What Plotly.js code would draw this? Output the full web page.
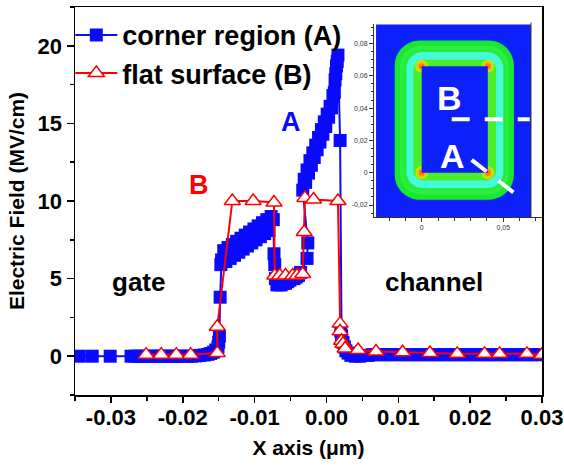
<!DOCTYPE html>
<html>
<head>
<meta charset="utf-8">
<script src="https://cdn.plot.ly/plotly-3.0.1.min.js"></script>
<style>html,body{margin:0;padding:0;background:#fff;}#chart{width:564px;height:465px;}</style>
</head>
<body>
<div id="chart"></div>
<script>
// ---- data ----
const cornerX = [-0.0344,-0.0326,-0.0301,-0.0272,
  -0.0266,-0.0260,-0.0254,-0.0248,-0.0242,-0.0236,-0.0230,-0.0224,-0.0218,-0.0212,-0.0206,-0.0200,-0.0194,-0.0188,-0.0182,-0.0176,-0.0170,-0.0165,-0.0161,-0.0157,-0.0154,-0.0151,
  -0.0150,-0.0149,-0.0148,-0.0147,
  -0.0146,-0.0143,-0.0140,-0.0137,-0.0134,-0.0131,-0.0128,-0.0125,-0.0122,-0.0119,-0.0116,-0.0113,-0.0110,-0.0107,-0.0104,-0.0101,-0.0098,-0.0095,-0.0092,-0.0089,-0.0086,-0.0083,-0.0080,-0.0077,
  -0.0074,-0.0073,-0.0072,-0.0071,-0.0069,-0.0066,-0.0063,-0.0060,-0.0057,-0.0054,-0.0051,-0.0048,-0.0045,-0.0042,-0.0039,-0.0036,
  -0.0027,-0.0026,
  -0.0033,-0.0031,-0.0029,-0.0027,-0.0025,-0.0023,-0.0021,-0.0019,-0.0017,-0.0015,-0.0013,-0.0011,-0.0009,-0.0007,-0.0005,-0.0003,-0.0001,0.0001,0.0003,0.0005,0.0007,0.0009,0.0011,0.0012,0.0013,0.0014,0.0015,0.0016,
  0.0019,0.0020,0.0021,0.0023,0.0025,0.0027,0.0030,
  0.0034,0.0040,0.0046,0.0052,0.0058,0.0064,0.0070,0.0076,0.0082,0.0088,0.0094,0.0100,0.0106,0.0112,0.0118,0.0124,0.0130,0.0136,0.0142,0.0148,0.0154,0.0160,0.0166,0.0172,0.0178,0.0184,0.0190,0.0196,0.0202,0.0208,0.0214,0.0220,0.0226,0.0232,0.0238,0.0244,0.0250,0.0256,0.0262,0.0268,0.0274,0.0280,0.0286,0.0292,0.0298];
const cornerY = [0.0,0.0,0.0,0.0,
  0.0,0.0,0.0,0.0,0.0,0.0,0.0,0.0,0.0,0.0,0.0,0.0,0.0,0.0,0.02,0.05,0.08,0.12,0.18,0.26,0.4,0.6,
  0.9,1.3,3.8,5.9,
  6.2,6.8,6.1,7.0,6.3,7.2,6.5,7.4,6.7,7.6,6.9,7.8,7.1,8.0,7.3,8.2,7.5,8.4,7.7,8.6,7.9,8.8,8.1,9.0,
  8.8,6.6,5.9,5.0,4.6,4.6,4.6,4.7,4.7,4.8,4.9,5.0,5.0,5.1,5.2,5.4,
  6.3,7.3,
  10.7,11.4,11.2,12.0,11.8,12.6,12.3,13.1,12.8,13.6,13.3,14.1,13.8,14.6,14.3,15.1,14.8,15.6,15.4,16.1,16.0,16.8,17.0,17.8,18.2,18.7,19.0,19.4,
  13.9,1.6,1.3,0.9,0.6,0.35,0.2,
  0.05,0.0,0.0,0.05,0.05,0.1,0.1,0.1,0.1,0.1,0.1,0.1,0.1,0.1,0.1,0.1,0.1,0.1,0.1,0.1,0.1,0.1,0.1,0.1,0.1,0.1,0.1,0.1,0.1,0.1,0.1,0.1,0.1,0.1,0.1,0.1,0.1,0.1,0.1,0.1,0.1,0.1,0.1,0.1,0.1];

const flatX = [-0.0251,-0.0230,-0.0209,-0.0189,-0.0152,-0.0152,-0.0131,-0.0102,-0.0073,
  -0.0072,-0.0065,-0.0057,-0.0047,-0.0041,-0.0033,-0.0031,-0.0030,-0.0018,0.0016,
  0.0019,0.0019,0.0021,0.0023,0.0026,0.0044,0.0069,0.0106,0.0144,0.0182,0.0220,0.0241,0.0279,0.0300];
const flatY = [0.1,0.1,0.1,0.1,0.2,1.9,10.0,10.0,9.9,
  5.2,5.2,5.2,5.2,5.2,5.3,8.0,10.2,10.1,10.0,
  2.1,1.6,1.0,0.8,0.5,0.4,0.3,0.25,0.2,0.15,0.15,0.15,0.15,0.1];

const seriesNames = ['corner region (A)', 'flat surface (B)'];
const xTickVals = [-0.03,-0.02,-0.01,0,0.01,0.02,0.03];
const xTickText = ['-0.03','-0.02','-0.01','0.00','0.01','0.02','0.03'];
const yTickVals = [0,5,10,15,20];
const insetXTickVals = [0,0.05];
const insetXTickText = ['0','0,05'];
const insetYTickVals = [-0.02,0,0.02,0.04,0.06,0.08];
const insetYTickText = ['-0,02','0','0,02','0,04','0,06','0,08'];

// ---- styling ----
const FONT = 'Arial, "Liberation Sans", Helvetica, sans-serif';
const BLUE = '#0a0aff';
const RED = '#ff0000';
const MAPBLUE = 'rgb(12,32,250)';

const traces = [
  {x: cornerX, y: cornerY, name: seriesNames[0], type: 'scatter', mode: 'lines+markers',
   line: {color: BLUE, width: 2}, marker: {symbol: 'square', size: 13, color: BLUE}},
  {x: flatX, y: flatY, name: seriesNames[1], type: 'scatter', mode: 'lines+markers',
   line: {color: RED, width: 2}, marker: {symbol: 'triangle-up', size: 14, color: '#ffffff', line: {color: RED, width: 1.5}}}
];

function rr(x0, y0, x1, y1, r) {
  const k = 0.4477 * r;
  return 'M' + (x0 + r) + ',' + y0 + ' L' + (x1 - r) + ',' + y0 +
    ' C' + (x1 - k) + ',' + y0 + ' ' + x1 + ',' + (y0 + k) + ' ' + x1 + ',' + (y0 + r) +
    ' L' + x1 + ',' + (y1 - r) +
    ' C' + x1 + ',' + (y1 - k) + ' ' + (x1 - k) + ',' + y1 + ' ' + (x1 - r) + ',' + y1 +
    ' L' + (x0 + r) + ',' + y1 +
    ' C' + (x0 + k) + ',' + y1 + ' ' + x0 + ',' + (y1 - k) + ' ' + x0 + ',' + (y1 - r) +
    ' L' + x0 + ',' + (y0 + r) +
    ' C' + x0 + ',' + (y0 + k) + ' ' + (x0 + k) + ',' + y0 + ' ' + (x0 + r) + ',' + y0 + ' Z';
}
function pathShape(p, fill) {
  return {type: 'path', xref: 'x2', yref: 'y2', path: p, fillcolor: fill, line: {width: 0}, layer: 'above'};
}
function circ(cx, cy, r, fill) {
  return {type: 'circle', xref: 'x2', yref: 'y2', x0: cx - r, x1: cx + r, y0: cy - r, y1: cy + r,
          fillcolor: fill, line: {width: 0}, layer: 'above'};
}

const shapes = [
  {type: 'rect', xref: 'x2 domain', yref: 'y2 domain', x0: 0.012, x1: 0.9345, y0: 0, y1: 1,
   fillcolor: MAPBLUE, line: {width: 0}, layer: 'above'},
  {type: 'line', xref: 'x2 domain', yref: 'y2 domain', x0: 0.9345, x1: 0.9345, y0: 0, y1: 1.01,
   line: {color: '#333', width: 1}, layer: 'above'},
  pathShape(rr(-0.0165, -0.0167, 0.0565, 0.0819, 0.0155), 'rgb(25,232,48)'),
  pathShape(rr(-0.0132, -0.0134, 0.0532, 0.0786, 0.0128), 'rgb(48,237,64)'),
  pathShape(rr(-0.0112, -0.0114, 0.0512, 0.0766, 0.0112), 'rgb(35,236,58)'),
  pathShape(rr(-0.0093, -0.0095, 0.0500, 0.0748, 0.0100), 'rgb(70,250,215)'),
  pathShape(rr(-0.0050, -0.0048, 0.0455, 0.0700, 0.0060), 'rgb(75,236,40)')
];
[[0, 0], [0.0405, 0], [0, 0.066], [0.0405, 0.066]].forEach(function (c) {
  shapes.push(circ(c[0], c[1], 0.0040, 'rgb(180,235,10)'));
  shapes.push(circ(c[0], c[1], 0.0029, 'rgb(250,190,0)'));
  shapes.push(circ(c[0], c[1], 0.0018, 'rgb(255,120,0)'));
});
shapes.push({type: 'rect', xref: 'x2', yref: 'y2', x0: 0, x1: 0.0405, y0: 0, y1: 0.066,
  fillcolor: MAPBLUE, line: {width: 0}, layer: 'above'});
shapes.push({type: 'line', xref: 'x2', yref: 'y2', x0: 0.0184, x1: 0.0662, y0: 0.0332, y1: 0.0332,
  line: {color: '#ffffff', width: 4, dash: '18px,15px'}, layer: 'above'});
shapes.push({type: 'line', xref: 'x2', yref: 'y2', x0: 0.0306, y0: 0.0080, x1: 0.0562, y1: -0.0122,
  line: {color: '#ffffff', width: 4, dash: '19px,15px'}, layer: 'above'});

const annotations = [
  {x: -0.0177, y: 11.0, xref: 'x', yref: 'y', text: 'B', showarrow: false,
   font: {family: FONT, size: 27, color: RED, weight: 'bold'}},
  {x: -0.0050, y: 15.1, xref: 'x', yref: 'y', text: 'A', showarrow: false,
   font: {family: FONT, size: 27, color: BLUE, weight: 'bold'}},
  {x: -0.0262, y: 4.8, xref: 'x', yref: 'y', text: 'gate', showarrow: false,
   font: {family: FONT, size: 26, color: '#000', weight: 'bold'}},
  {x: 0.0150, y: 4.8, xref: 'x', yref: 'y', text: 'channel', showarrow: false,
   font: {family: FONT, size: 26, color: '#000', weight: 'bold'}},
  {x: 0.0173, y: 0.0461, xref: 'x2', yref: 'y2', text: 'B', showarrow: false,
   font: {family: FONT, size: 34, color: '#ffffff', weight: 'bold'}},
  {x: 0.0189, y: 0.0105, xref: 'x2', yref: 'y2', text: 'A', showarrow: false,
   font: {family: FONT, size: 34, color: '#ffffff', weight: 'bold'}}
];

const layout = {
  width: 564, height: 465,
  margin: {l: 75, r: 22, t: 7, b: 70, pad: 0},
  paper_bgcolor: '#ffffff', plot_bgcolor: '#ffffff',
  font: {family: FONT, color: '#000'},
  showlegend: true,
  legend: {x: -0.01, y: 0.99, xanchor: 'left', yanchor: 'top', bgcolor: 'rgba(0,0,0,0)',
           borderwidth: 0, itemwidth: 42, tracegroupgap: 4,
           font: {family: FONT, size: 27, color: '#000', weight: 'bold'}},
  xaxis: {range: [-0.035, 0.03], tickmode: 'array', tickvals: xTickVals, ticktext: xTickText,
          showline: true, mirror: true, linecolor: '#000', linewidth: 1.5,
          ticks: 'outside', ticklen: 6, tickwidth: 1.5, tickcolor: '#000', ticklabelstandoff: -4,
          minor: {dtick: 0.005, tick0: 0, ticks: 'outside', ticklen: 4, tickwidth: 1.5, tickcolor: '#000'},
          showgrid: false, zeroline: false,
          tickfont: {family: FONT, size: 22, color: '#000', weight: 'bold'},
          title: {text: 'X axis (\u03bcm)', standoff: 11, font: {family: FONT, size: 21, color: '#000', weight: 'bold'}}},
  yaxis: {range: [-2.5, 22.5], tickmode: 'array', tickvals: yTickVals,
          showline: true, mirror: true, linecolor: '#000', linewidth: 1.5,
          ticks: 'outside', ticklen: 7, tickwidth: 1.5, tickcolor: '#000',
          minor: {dtick: 2.5, tick0: 0, ticks: 'outside', ticklen: 4, tickwidth: 1.5, tickcolor: '#000'},
          showgrid: false, zeroline: false,
          tickfont: {family: FONT, size: 22, color: '#000', weight: 'bold'},
          title: {text: 'Electric Field (MV/cm)', standoff: 7, font: {family: FONT, size: 21, color: '#000', weight: 'bold'}}},
  xaxis2: {domain: [0.6403, 1.0], anchor: 'y2', range: [-0.0292, 0.0737],
           tickmode: 'array', tickvals: insetXTickVals, ticktext: insetXTickText,
           showline: true, linecolor: '#333', linewidth: 1, ticks: 'outside', ticklen: 4, tickwidth: 1, tickcolor: '#333',
           minor: {dtick: 0.01, tick0: 0, ticks: 'outside', ticklen: 3, tickwidth: 1, tickcolor: '#333'},
           showgrid: false, zeroline: false, fixedrange: true,
           tickfont: {family: FONT, size: 7, color: '#333'}},
  yaxis2: {domain: [0.4588, 0.9549], anchor: 'x2', range: [-0.0274, 0.0918],
           tickmode: 'array', tickvals: insetYTickVals, ticktext: insetYTickText,
           showline: true, linecolor: '#333', linewidth: 1, ticks: 'outside', ticklen: 4, tickwidth: 1, tickcolor: '#333',
           minor: {dtick: 0.005, tick0: 0, ticks: 'outside', ticklen: 2, tickwidth: 1, tickcolor: '#333'},
           showgrid: false, zeroline: false, fixedrange: true,
           tickfont: {family: FONT, size: 7, color: '#333'}},
  shapes: shapes,
  annotations: annotations
};

Plotly.newPlot('chart', traces, layout, {displayModeBar: false, staticPlot: true});
</script>
</body>
</html>
